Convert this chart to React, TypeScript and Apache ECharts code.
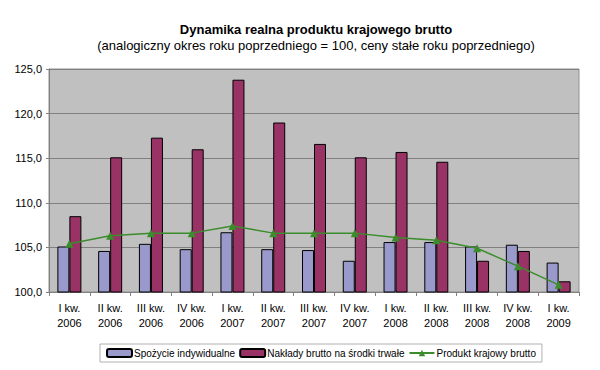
import React, { useEffect, useRef } from "react";
import * as echarts from "echarts";

const categories = [
  "I kw.\n2006", "II kw.\n2006", "III kw.\n2006", "IV kw.\n2006",
  "I kw.\n2007", "II kw.\n2007", "III kw.\n2007", "IV kw.\n2007",
  "I kw.\n2008", "II kw.\n2008", "III kw.\n2008", "IV kw.\n2008",
  "I kw.\n2009",
];
const spozycie = [105.1, 104.6, 105.4, 104.8, 106.7, 104.8, 104.7, 103.5, 105.6, 105.6, 105.1, 105.3, 103.3];
const naklady = [108.5, 115.1, 117.3, 116.0, 123.8, 119.0, 116.6, 115.1, 115.7, 114.6, 103.5, 104.6, 101.2];
const pkb = [105.4, 106.3, 106.6, 106.6, 107.4, 106.6, 106.6, 106.6, 106.1, 105.8, 104.9, 102.9, 100.8];

const FONT = "'Liberation Sans', Arial, sans-serif";

export default function App() {
  const ref = useRef<HTMLDivElement>(null);
  useEffect(() => {
    if (!ref.current) return;
    const chart = echarts.init(ref.current, null, { renderer: "svg" });
    chart.setOption({
      animation: false,
      backgroundColor: "#ffffff",
      textStyle: { fontFamily: FONT },
      title: {
        text: "Dynamika realna produktu krajowego brutto",
        subtext: "(analogiczny okres roku poprzedniego = 100, ceny stałe roku poprzedniego)",
        left: 311,
        textAlign: "center",
        top: 18,
        itemGap: 3,
        textStyle: { fontFamily: FONT, fontSize: 13, fontWeight: "bold", color: "#000" },
        subtextStyle: { fontFamily: FONT, fontSize: 13, color: "#000" },
      },
      legend: {
        data: ["Spożycie indywidualne", "Nakłady brutto na środki trwałe", "Produkt krajowy brutto"],
        left: 100,
        top: 344,
        itemWidth: 25,
        itemHeight: 8,
        itemGap: 4,
        padding: [4, 6, 4, 6],
        borderColor: "#b0b0b0",
        borderWidth: 1,
        textStyle: { fontFamily: FONT, fontSize: 10, color: "#000", padding: [0, 0, 0, -3] },
      },
      grid: {
        left: 49,
        right: 21,
        top: 69,
        bottom: 78,
        show: true,
        backgroundColor: "#c0c0c0",
        borderColor: "#909090",
        borderWidth: 1,
      },
      xAxis: {
        type: "category",
        data: categories,
        axisLine: { lineStyle: { color: "#808080" } },
        axisTick: { show: true, lineStyle: { color: "#808080" }, length: 4 },
        axisLabel: { fontFamily: FONT, fontSize: 11, color: "#000", lineHeight: 15, margin: 8, interval: 0 },
      },
      yAxis: {
        type: "value",
        min: 100,
        max: 125,
        interval: 5,
        axisLine: { show: true, lineStyle: { color: "#808080" } },
        axisTick: { show: true, lineStyle: { color: "#808080" }, length: 3 },
        splitLine: { lineStyle: { color: "#808080" } },
        axisLabel: {
          fontFamily: FONT,
          fontSize: 11,
          color: "#000",
          margin: 7,
          formatter: (v: number) => v.toFixed(1).replace(".", ","),
        },
      },
      series: [
        {
          name: "Spożycie indywidualne",
          type: "bar",
          data: spozycie,
          barWidth: 12,
          barGap: "0%",
          itemStyle: { color: "#9999cc", borderColor: "#000", borderWidth: 1 },
        },
        {
          name: "Nakłady brutto na środki trwałe",
          type: "bar",
          data: naklady,
          barWidth: 12,
          barGap: "0%",
          itemStyle: { color: "#993366", borderColor: "#000", borderWidth: 1 },
        },
        {
          name: "Produkt krajowy brutto",
          type: "line",
          data: pkb,
          symbol: "triangle",
          symbolSize: 8,
          lineStyle: { color: "#3b8c2a", width: 1.5 },
          itemStyle: { color: "#3b8c2a" },
        },
      ],
    });
    return () => chart.dispose();
  }, []);
  return <div ref={ref} style={{ position: "fixed", left: 0, top: 0, width: 600, height: 370 }} />;
}
